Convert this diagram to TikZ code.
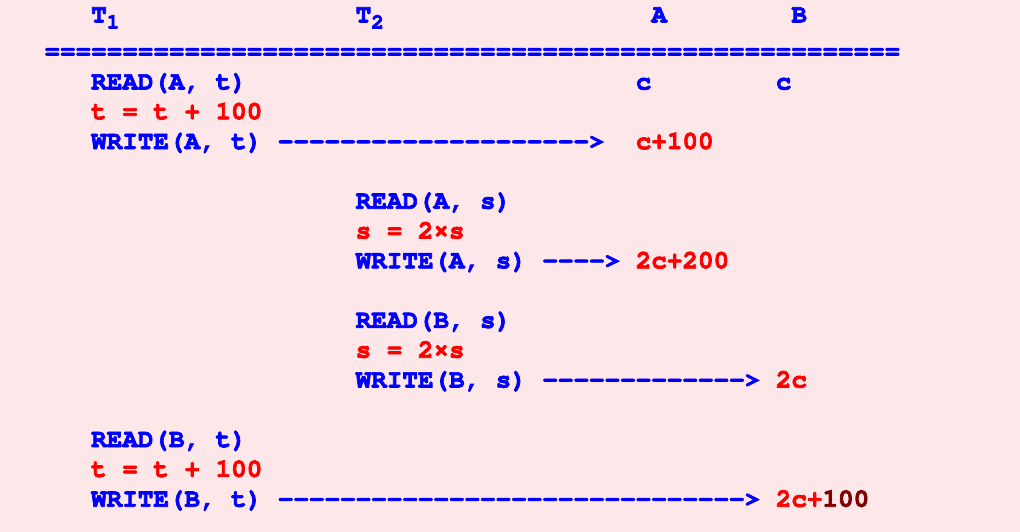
\documentclass[tikz,border=0pt]{standalone}
\usepackage[T1]{fontenc}
\usepackage{tikz}
\renewcommand{\ttdefault}{pcr}
\definecolor{bgpink}{RGB}{253,231,233}
\definecolor{opblue}{RGB}{0,0,255}
\definecolor{valred}{RGB}{255,0,0}
\definecolor{valdark}{RGB}{128,0,0}
\newcommand{\codefont}{\fontsize{25.93bp}{30bp}\ttfamily\bfseries\frenchspacing}
\newcommand{\heavy}[1]{\special{pdf:literal direct 2 Tr 0.7 w}#1\special{pdf:literal direct 0 Tr 0.4 w}}
\newcommand{\rep}[2]{\foreach \k in {1,...,#1}{#2{}}}
\newcommand{\subone}[1]{\raisebox{-6bp}{\fontsize{21bp}{22bp}\selectfont #1}}
\begin{document}
\begin{tikzpicture}[x=15.56bp,y=-29.8bp,
    every node/.style={anchor=base west,inner sep=0pt,font=\codefont},
    op/.style={text=opblue},
    val/.style={text=valred}]
  \path[fill=bgpink] (-5.848,-3.003) rectangle (59.704,14.849);
  % header
  \node[op] (T1) at (0,-2.25) {\heavy{T\subone{1}}};
  \node[op] (T2) at (17,-2.25) {\heavy{T\subone{2}}};
  \node[op] (colA) at (36,-2.25) {\heavy{A}};
  \node[op] (colB) at (45,-2.25) {\heavy{B}};
  \node[op] (rule) at (-3,-1.02) {\heavy{\rep{55}{=}}};
  % initial values
  \node[op] (readAt) at (0,0) {\heavy{READ(A, t)}};
  \node[op] (initA) at (35,0) {\heavy{c}};
  \node[op] (initB) at (44,0) {\heavy{c}};
  \node[val] (incAt) at (0,1) {\heavy{t = t + 100}};
  \node[op] (writeAt) at (0,2) {\heavy{WRITE(A, t)}};
  \node[op] (arrAt) at (12,2) {\heavy{\rep{20}{-}>}};
  \node[val] (valAt) at (35,2) {\heavy{c+100}};
  % T2
  \node[op] (readAs) at (17,4) {\heavy{READ(A, s)}};
  \node[val] (dblAs) at (17,5) {\heavy{s = 2\texttimes s}};
  \node[op] (writeAs) at (17,6) {\heavy{WRITE(A, s)}};
  \node[op] (arrAs) at (29,6) {\heavy{\rep{4}{-}>}};
  \node[val] (valAs) at (35,6) {\heavy{2c+200}};
  \node[op] (readBs) at (17,8) {\heavy{READ(B, s)}};
  \node[val] (dblBs) at (17,9) {\heavy{s = 2\texttimes s}};
  \node[op] (writeBs) at (17,10) {\heavy{WRITE(B, s)}};
  \node[op] (arrBs) at (29,10) {\heavy{\rep{13}{-}>}};
  \node[val] (valBs) at (44,10) {\heavy{2c}};
  % T1 again
  \node[op] (readBt) at (0,12) {\heavy{READ(B, t)}};
  \node[val] (incBt) at (0,13) {\heavy{t = t + 100}};
  \node[op] (writeBt) at (0,14) {\heavy{WRITE(B, t)}};
  \node[op] (arrBt) at (12,14) {\heavy{\rep{30}{-}>}};
  \node[val] (valBt) at (44,14) {\heavy{2c+\textcolor{valdark}{100}}};
\end{tikzpicture}
\end{document}
